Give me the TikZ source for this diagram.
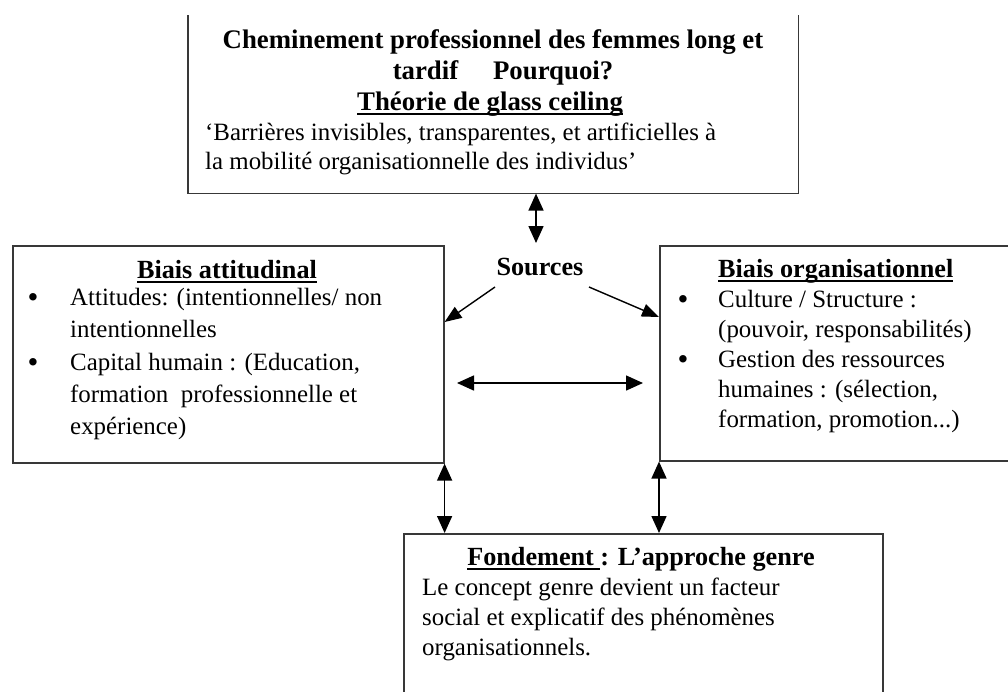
\documentclass[tikz,border=0pt]{standalone}
\usepackage{fontspec}
\setmainfont{Liberation Serif}
\usetikzlibrary{arrows.meta}
\newsavebox{\myulbox}
\newcommand{\myul}[1]{\sbox{\myulbox}{#1}\rlap{\rule[-5pt]{\wd\myulbox}{2.4pt}}\usebox{\myulbox}}
\tikzset{
  boxst/.style={draw=black!78, line width=1.6pt, inner sep=0pt, anchor=north west},
  reg/.style={inner sep=0pt, anchor=base west, font=\fontsize{24.9}{30}\selectfont},
  bld/.style={inner sep=0pt, anchor=base, font=\fontsize{26.2}{30}\selectfont\bfseries},
  bldt/.style={inner sep=0pt, anchor=base, font=\fontsize{26.8}{30}\selectfont\bfseries},
  bldw/.style={inner sep=0pt, anchor=base west, font=\fontsize{26.2}{30}\selectfont\bfseries},
  bul/.style={inner sep=0pt, anchor=base, font=\fontsize{31}{30}\selectfont},
  arr/.style={-{Triangle[length=17pt,width=13pt]}, line width=1.4pt},
  dbl/.style={{Triangle[length=17pt,width=15pt]}-{Triangle[length=17pt,width=15pt]}, line width=1.5pt},
}
\begin{document}
\begin{tikzpicture}[x=1pt,y=-1pt]
\useasboundingbox (0,0) rectangle (1008,691);
\clip (0,0) rectangle (1008,691);
\fill[white] (0,0) rectangle (1008,691);

% boxes
\node[boxst, draw=none, minimum width=609pt, minimum height=177pt] (topbox) at (188,15) {};
\draw[draw=black!78, line width=1.6pt] (topbox.north west) -- (topbox.south west) -- (topbox.south east) -- (topbox.north east);
\node[boxst, minimum width=431pt, minimum height=217pt] (leftbox) at (12,245) {};
\node[boxst, minimum width=380pt, minimum height=215pt] (rightbox) at (659,245) {};
\node[boxst, minimum width=479pt, minimum height=200pt] (botbox) at (403,533) {};

% top box text
\node[bldt] (t1) at (493,48) {Cheminement professionnel des femmes long et};
\node[bldt] (t2) at (503,79) {tardif\hspace{1.3em}Pourquoi?};
\node[bldt] (t3) at (490,110) {\myul{Théorie de glass ceiling}};
\node[reg] (t4) at (205,140) {‘Barrières invisibles, transparentes, et artificielles à};
\node[reg] (t5) at (205,169) {la mobilité organisationnelle des individus’};

% sources
\node[bld] (sources) at (540,275) {Sources};

% left box text
\node[bld] (l0) at (227,278) {\myul{Biais attitudinal}};
\node[bul] (lb1) at (33,307) {•};
\node[reg] (l1) at (70,305) {Attitudes: (intentionnelles/ non};
\node[reg] (l2) at (70,337) {intentionnelles};
\node[bul] (lb2) at (33,372) {•};
\node[reg] (l3) at (70,370) {Capital humain : (Education,};
\node[reg] (l4) at (70,402) {formation\ \ professionnelle et};
\node[reg] (l5) at (70,434) {expérience)};

% right box text
\node[bldw] (r0) at (718,277) {\myul{Biais organisationnel}};
\node[bul] (rb1) at (683,309) {•};
\node[reg] (r1) at (718,307) {Culture / Structure :};
\node[reg] (r2) at (718,337) {(pouvoir, responsabilités)};
\node[bul] (rb2) at (683,369) {•};
\node[reg] (r3) at (718,367) {Gestion des ressources};
\node[reg] (r4) at (718,397) {humaines : (sélection,};
\node[reg] (r5) at (718,427) {formation, promotion...)};

% bottom box text
\node[bld] (b0) at (641,565) {\myul{Fondement\ }: L’approche genre};
\node[reg] (b1) at (422,595) {Le concept genre devient un facteur};
\node[reg] (b2) at (422,625) {social et explicatif des phénomènes};
\node[reg] (b3) at (422,655) {organisationnels.};

% connectors
\coordinate (srcup) at (536,243);
\draw[dbl] (srcup |- topbox.south) -- (srcup);
\coordinate (sl) at (495,287);
\coordinate (sr) at (589,287);
\draw[arr] (sl) -- (leftbox.east |- 0,322);
\draw[arr] (sr) -- (rightbox.west |- 0,317);
\coordinate (hl) at (457,383);
\coordinate (hr) at (643,383);
\draw[dbl] (hl) -- (hr);
\draw[dbl] (leftbox.south east) -- (leftbox.south east |- botbox.north);
\draw[dbl] (rightbox.south west) -- (rightbox.south west |- botbox.north);
\end{tikzpicture}
\end{document}
